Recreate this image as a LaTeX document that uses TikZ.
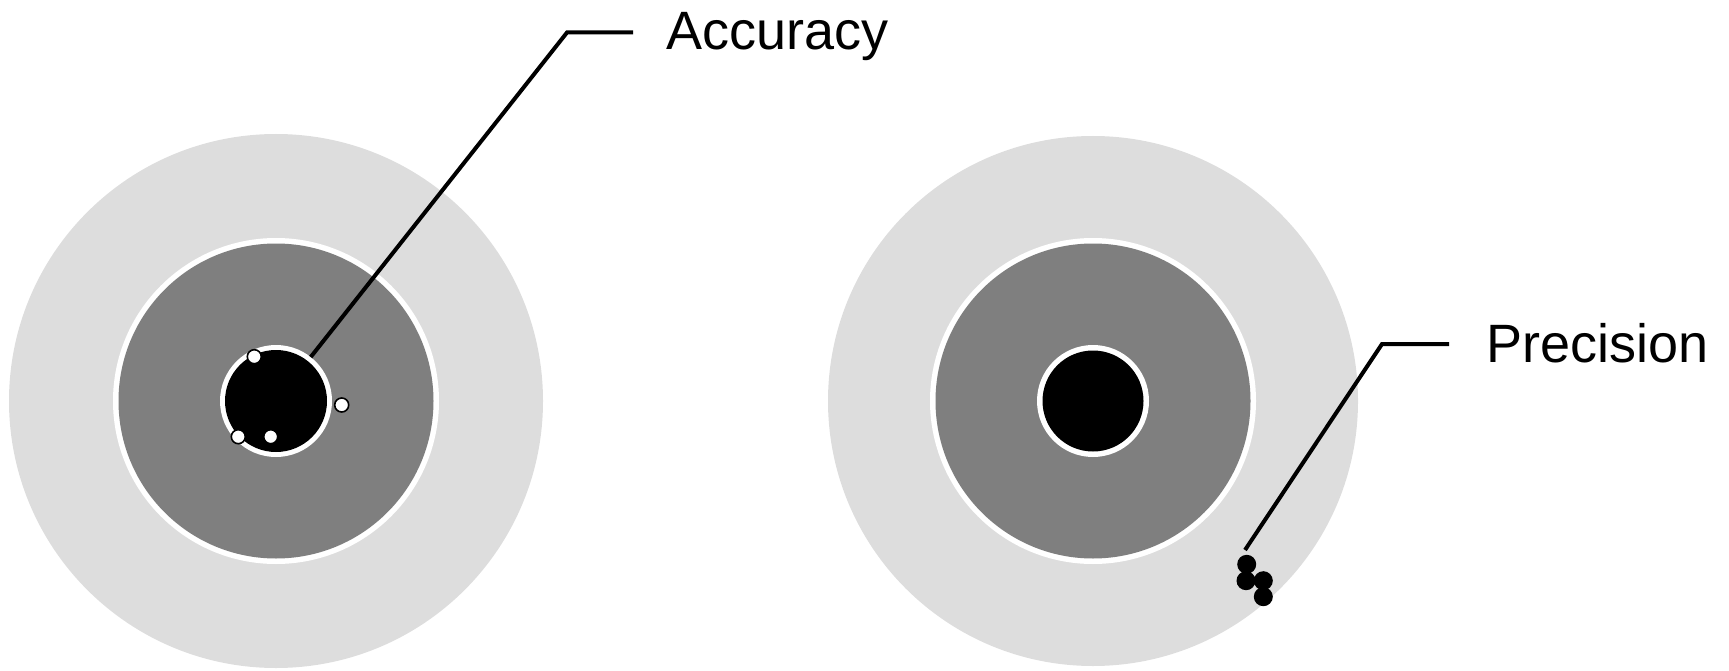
\documentclass[tikz,border=0pt]{standalone}
\usepackage{fontspec}
\setmainfont{Liberation Sans}
\definecolor{ringlight}{HTML}{DDDDDD}
\definecolor{ringmid}{HTML}{7F7F7F}
\begin{document}
\begin{tikzpicture}[x=1pt,y=-1pt,
  disc/.style={circle, inner sep=0pt, outer sep=0pt, draw=none, minimum size=#1},
  lightdisc/.style={disc=#1, fill=ringlight},
  whitedisc/.style={disc=#1, fill=white},
  middisc/.style={disc=#1, fill=ringmid},
  blackdisc/.style={disc=#1, fill=black},
  hole/.style={circle, inner sep=0pt, outer sep=0pt, fill=white, draw=black, line width=1.6pt, minimum size=14pt},
  shot/.style={circle, inner sep=0pt, outer sep=0pt, fill=black, minimum size=19pt},
  leader/.style={line width=4pt, line cap=butt, line join=miter},
  lbl/.style={inner sep=0pt, outer sep=0pt, anchor=base west, font=\fontsize{54}{60}\selectfont}
]
\useasboundingbox (0,0) rectangle (1729,671);

% ---- left target ----
\node[lightdisc=534pt] (Lout) at (276,401) {};
\node[whitedisc=326pt] (Lmidw) at (276,401) {};
\node[middisc=315pt] (Lmid) at (276,401) {};
\node[whitedisc=112pt] (Linw) at (276,401) {};
\node[blackdisc=102pt] (Lin) at (276,401) {};

\node[hole] (h1) at (254.3,356.7) {};
\node[hole] (h2) at (341.7,405) {};
\node[hole] (h3) at (238.3,436.7) {};
\node[hole] (h4) at (270.7,436.7) {};

% ---- right target ----
\node[lightdisc=530pt] (Rout) at (1093,401) {};
\node[whitedisc=326pt] (Rmidw) at (1093,401) {};
\node[middisc=315pt] (Rmid) at (1093,401) {};
\node[whitedisc=112pt] (Rinw) at (1093,401) {};
\node[blackdisc=101pt] (Rin) at (1093,401) {};

\node[shot] (s1) at (1246.7,564.3) {};
\node[shot] (s2) at (1246,580.7) {};
\node[shot] (s3) at (1263.3,580.7) {};
\node[shot] (s4) at (1263.3,596.7) {};

% ---- leaders and labels ----
\coordinate (Lc) at (567,32.5);
\coordinate (Lt) at (633,32.5);
\node[lbl] (acc) at (666,50) {Accuracy};
\draw[leader] (Linw) -- (Lc) -- (Lt);

\coordinate (Pe) at (1245,550);
\coordinate (Pc) at (1382,344);
\coordinate (Pt) at (1449,344);
\node[lbl] (prec) at (1486,362) {Precision};
\draw[leader] (Pe) -- (Pc) -- (Pt);
\end{tikzpicture}
\end{document}
